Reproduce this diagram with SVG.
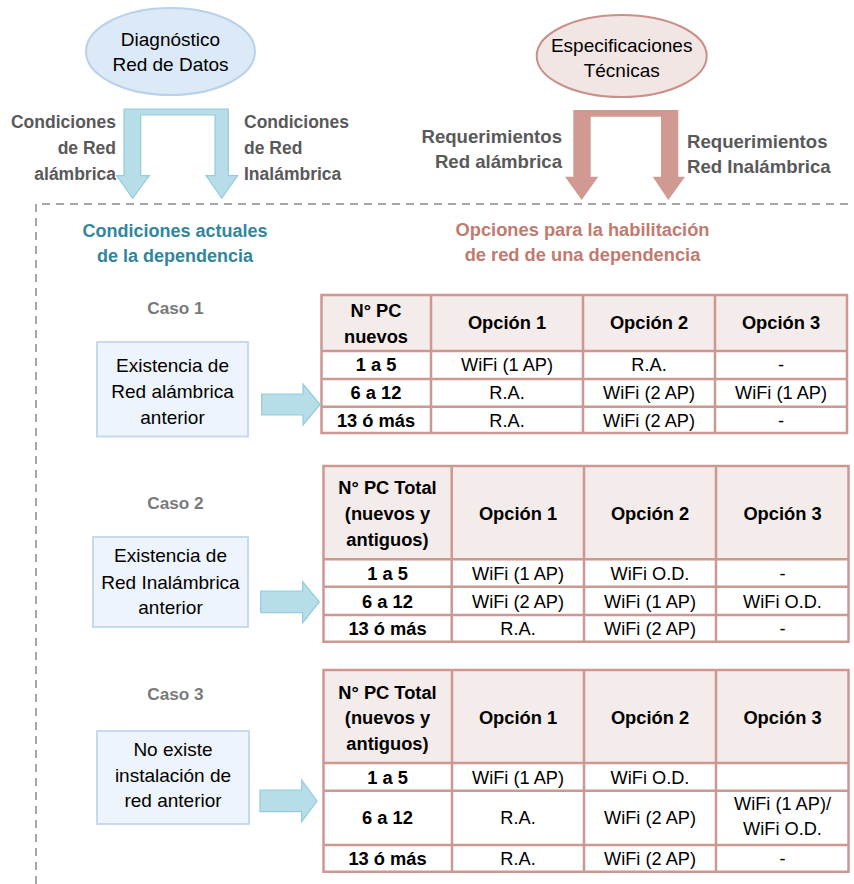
<svg xmlns="http://www.w3.org/2000/svg" width="854" height="884" viewBox="0 0 854 884">
<style>
text{font-family:"Liberation Sans",Arial,sans-serif;}
.reg{font-size:19px;fill:#000;text-anchor:middle;}
.td{font-size:18.2px;fill:#000;text-anchor:middle;}
.th{font-size:18.3px;font-weight:bold;fill:#000;text-anchor:middle;}
.lbl{font-size:17.5px;font-weight:bold;fill:#595959;}
.req{font-size:18.6px;font-weight:bold;fill:#595959;}
.caso{font-size:17.2px;font-weight:bold;fill:#7a7a7a;text-anchor:middle;}
.teal{font-size:18px;font-weight:bold;fill:#31859c;text-anchor:middle;}
.rust{font-size:18.3px;font-weight:bold;fill:#c27a6f;text-anchor:middle;}
.box{fill:#eef4fb;stroke:#c6d9f0;stroke-width:2;}
.hdr{fill:#f4ecea;stroke:none;}
.grid{fill:none;stroke:#cc9891;stroke-width:2.5;}
.blue{fill:#b7dde8;stroke:#92cddb;stroke-width:1.2;}
.red{fill:#d09a93;stroke:none;}
</style>

<path d="M36,884 V204 H854" fill="none" stroke="#a6a6a6" stroke-width="2" stroke-dasharray="8 6"/>

<g id="diagnostico">
<ellipse cx="170.5" cy="51.5" rx="84.5" ry="43.5" fill="#dce9f7" stroke="#b9d1ea" stroke-width="2"/>
<text class="reg" x="170.5" y="46">Diagnóstico</text>
<text class="reg" x="170.5" y="71">Red de Datos</text>
</g>

<g id="especificaciones">
<ellipse cx="621.7" cy="56" rx="85" ry="41" fill="#f2e6e4" stroke="#c9908a" stroke-width="2"/>
<text class="reg" x="621.7" y="52">Especificaciones</text>
<text class="reg" x="621.7" y="77">Técnicas</text>
</g>

<g id="labels">
<text class="lbl" x="116" y="128" text-anchor="end">Condiciones</text>
<text class="lbl" x="116" y="154" text-anchor="end">de Red</text>
<text class="lbl" x="116" y="180" text-anchor="end">alámbrica</text>
<text class="lbl" x="244" y="128">Condiciones</text>
<text class="lbl" x="244" y="154">de Red</text>
<text class="lbl" x="244" y="180">Inalámbrica</text>
<text class="req" x="562" y="143" text-anchor="end">Requerimientos</text>
<text class="req" x="562" y="168" text-anchor="end">Red alámbrica</text>
<text class="req" x="687" y="148">Requerimientos</text>
<text class="req" x="687" y="173">Red Inalámbrica</text>
</g>

<g id="titulo-condiciones">
<text class="teal" x="175" y="237">Condiciones actuales</text>
<text class="teal" x="175" y="262">de la dependencia</text>
</g>
<g id="titulo-opciones">
<text class="rust" x="582.5" y="236">Opciones para la habilitación</text>
<text class="rust" x="582.5" y="261">de red de una dependencia</text>
</g>

<g id="caso1">
<text class="caso" x="175.5" y="314">Caso 1</text>
<rect class="box" x="97" y="342" width="151" height="94.5"/>
<text class="reg" x="172.5" y="372">Existencia de</text>
<text class="reg" x="172.5" y="398">Red alámbrica</text>
<text class="reg" x="172.5" y="423.5">anterior</text>
</g>

<g id="caso2">
<text class="caso" x="175.5" y="509">Caso 2</text>
<rect class="box" x="93" y="537" width="155" height="90"/>
<text class="reg" x="170.5" y="562">Existencia de</text>
<text class="reg" x="170.5" y="588.5">Red Inalámbrica</text>
<text class="reg" x="170.5" y="614">anterior</text>
</g>

<g id="caso3">
<text class="caso" x="175.5" y="700">Caso 3</text>
<rect class="box" x="97" y="731" width="152" height="93"/>
<text class="reg" x="173" y="756">No existe</text>
<text class="reg" x="173" y="781.5">instalación de</text>
<text class="reg" x="173" y="807">red anterior</text>
</g>

<g id="tabla1">
<rect class="hdr" x="321.5" y="295" width="525.5" height="56"/>
<path class="grid" d="M321.5,295H847V433H321.5Z M321.5,351H847 M321.5,379H847 M321.5,406.7H847 M431,295V433 M583,295V433 M715,295V433"/>
<text class="th" x="376" y="317">N° PC</text>
<text class="th" x="376" y="343">nuevos</text>
<text class="th" x="507" y="329">Opción 1</text>
<text class="th" x="649" y="329">Opción 2</text>
<text class="th" x="781" y="329">Opción 3</text>
<text class="th" x="376" y="371">1 a 5</text>
<text class="td" x="507" y="371">WiFi (1 AP)</text>
<text class="td" x="649" y="371">R.A.</text>
<text class="td" x="781" y="371">-</text>
<text class="th" x="376" y="399">6 a 12</text>
<text class="td" x="507" y="399">R.A.</text>
<text class="td" x="649" y="399">WiFi (2 AP)</text>
<text class="td" x="781" y="399">WiFi (1 AP)</text>
<text class="th" x="376" y="427">13 ó más</text>
<text class="td" x="507" y="427">R.A.</text>
<text class="td" x="649" y="427">WiFi (2 AP)</text>
<text class="td" x="781" y="427">-</text>
</g>

<g id="tabla2">
<rect class="hdr" x="323.5" y="466" width="525" height="93.3"/>
<path class="grid" d="M323.5,466H848.5V641.7H323.5Z M323.5,559.3H848.5 M323.5,586.7H848.5 M323.5,615H848.5 M451.7,466V641.7 M584,466V641.7 M716,466V641.7"/>
<text class="th" x="387.5" y="493.5">N° PC Total</text>
<text class="th" x="387.5" y="520">(nuevos y</text>
<text class="th" x="387.5" y="545.5">antiguos)</text>
<text class="th" x="518" y="520">Opción 1</text>
<text class="th" x="650" y="520">Opción 2</text>
<text class="th" x="782.5" y="520">Opción 3</text>
<text class="th" x="387.5" y="579.5">1 a 5</text>
<text class="td" x="518" y="579.5">WiFi (1 AP)</text>
<text class="td" x="650" y="579.5">WiFi O.D.</text>
<text class="td" x="782.5" y="579.5">-</text>
<text class="th" x="387.5" y="607.5">6 a 12</text>
<text class="td" x="518" y="607.5">WiFi (2 AP)</text>
<text class="td" x="650" y="607.5">WiFi (1 AP)</text>
<text class="td" x="782.5" y="607.5">WiFi O.D.</text>
<text class="th" x="387.5" y="634.5">13 ó más</text>
<text class="td" x="518" y="634.5">R.A.</text>
<text class="td" x="650" y="634.5">WiFi (2 AP)</text>
<text class="td" x="782.5" y="634.5">-</text>
</g>

<g id="tabla3">
<rect class="hdr" x="323.5" y="670" width="525" height="93"/>
<path class="grid" d="M323.5,670H848.5V871.7H323.5Z M323.5,763H848.5 M323.5,790.7H848.5 M323.5,845H848.5 M452,670V871.7 M584,670V871.7 M716,670V871.7"/>
<text class="th" x="387.5" y="698.5">N° PC Total</text>
<text class="th" x="387.5" y="724">(nuevos y</text>
<text class="th" x="387.5" y="749.5">antiguos)</text>
<text class="th" x="518" y="723.5">Opción 1</text>
<text class="th" x="650" y="723.5">Opción 2</text>
<text class="th" x="782.5" y="723.5">Opción 3</text>
<text class="th" x="387.5" y="784">1 a 5</text>
<text class="td" x="518" y="784">WiFi (1 AP)</text>
<text class="td" x="650" y="784">WiFi O.D.</text>
<text class="th" x="387.5" y="824">6 a 12</text>
<text class="td" x="518" y="824">R.A.</text>
<text class="td" x="650" y="824">WiFi (2 AP)</text>
<text class="td" x="782.5" y="809.5">WiFi (1 AP)/</text>
<text class="td" x="782.5" y="835">WiFi O.D.</text>
<text class="th" x="387.5" y="865">13 ó más</text>
<text class="td" x="518" y="865">R.A.</text>
<text class="td" x="650" y="865">WiFi (2 AP)</text>
<text class="td" x="782.5" y="865">-</text>
</g>

<g id="connectors">
<path class="blue" d="M116.7,175.7H124V109H228.3V175.7H237.7L221.7,198.3L206,175.7H215V115H140.7V175.7H149.3L132.7,198.3Z"/>
<path class="red" d="M565,176.7H573.3V110H678.3V176.7H685L668.3,200L652.7,176.7H661V116.7H590.7V176.7H598.3L581.7,200Z"/>
<path class="blue" d="M261.7,394H303V384L320,404.5L303,425V415H261.7Z"/>
<path class="blue" d="M260.7,591H302.7V581.7L319.3,602L302.7,622.7V612.7H260.7Z"/>
<path class="blue" d="M260,790H301.7V780L317,801L301.7,821.7V811.7H260Z"/>
</g>
</svg>
